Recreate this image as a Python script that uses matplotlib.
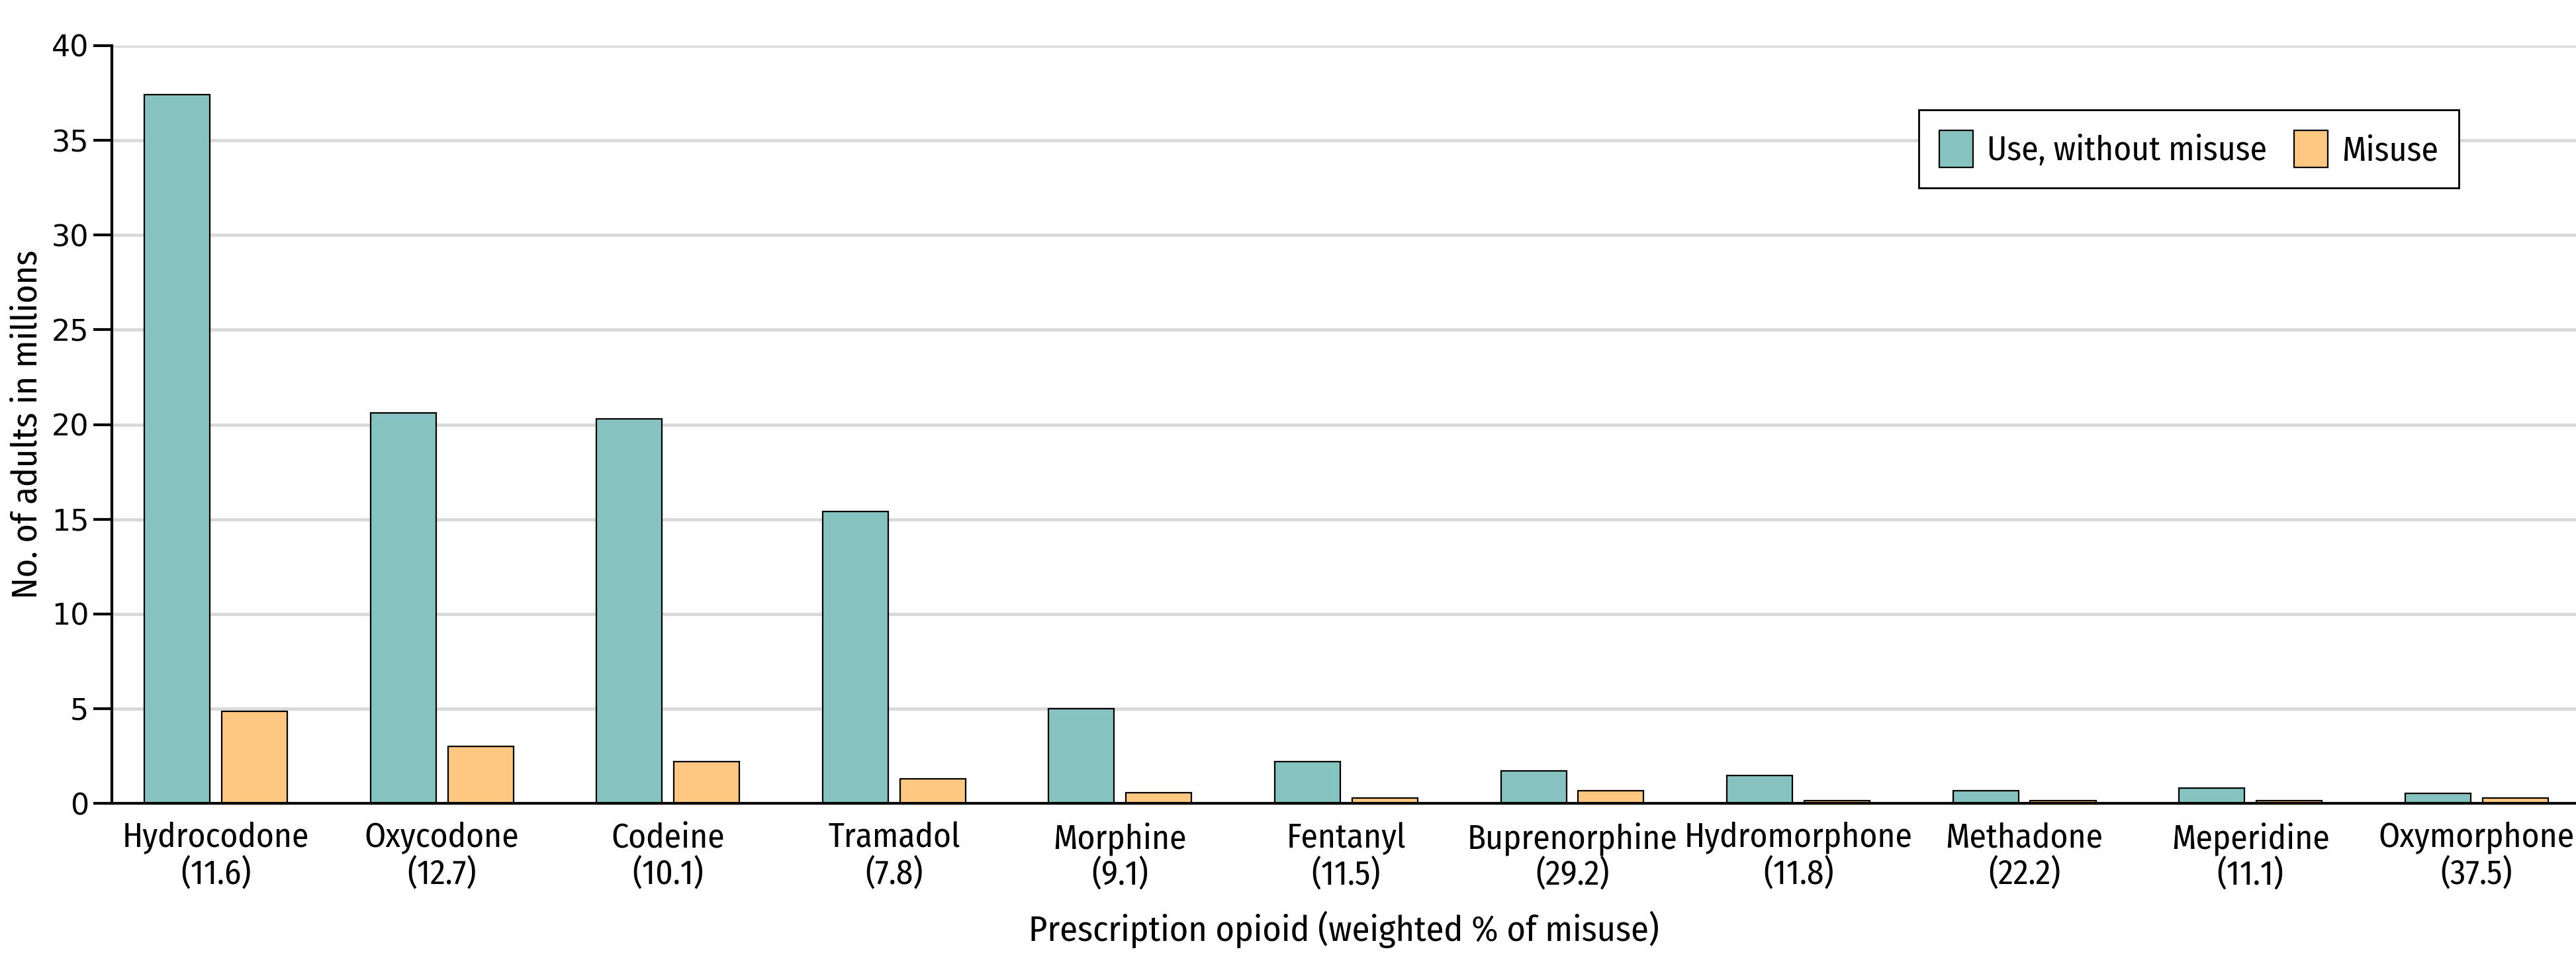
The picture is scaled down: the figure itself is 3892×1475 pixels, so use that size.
import matplotlib
matplotlib.use("Agg")
import matplotlib.pyplot as plt
import numpy as np

plt.rcParams['font.family'] = ['Fira Sans Condensed', 'Roboto Condensed', 'Barlow Semi Condensed',
                               'Archivo Narrow', 'DejaVu Sans']

# data
drugs = ["Hydrocodone", "Oxycodone", "Codeine", "Tramadol", "Morphine", "Fentanyl",
         "Buprenorphine", "Hydromorphone", "Methadone", "Meperidine", "Oxymorphone"]
pct_misuse = ["11.6", "12.7", "10.1", "7.8", "9.1", "11.5", "29.2", "11.8", "22.2", "11.1", "37.5"]
use_no_misuse = [37.4, 20.6, 20.3, 15.4, 5.0, 2.2, 1.7, 1.45, 0.65, 0.8, 0.52]
misuse = [4.85, 3.0, 2.2, 1.3, 0.55, 0.28, 0.66, 0.14, 0.14, 0.14, 0.28]
yticks = [0, 5, 10, 15, 20, 25, 30, 35, 40]

teal = "#86C2BF"
orange = "#FEC782"

W, H = 3892, 1475
fig = plt.figure(figsize=(W / 100, H / 100), dpi=100)
ax = fig.add_axes([169 / W, 1 - 1214 / H, (W - 169) / W, (1214 - 69) / H])

x = np.arange(len(drugs))
bw = 0.29
ax.bar(x - 0.171, use_no_misuse, bw, color=teal, edgecolor="black", linewidth=1.6,
       label="Use, without misuse", zorder=3)
ax.bar(x + 0.171, misuse, bw, color=orange, edgecolor="black", linewidth=1.6,
       label="Misuse", zorder=3)

ax.set_xlim(-0.46, 10.44)
ax.set_ylim(0, 40)
ax.set_yticks(yticks)
ax.set_yticklabels([str(v) for v in yticks], family="DejaVu Sans", fontsize=32)
ax.set_xticks(x)
ax.set_xticklabels([f"{d}\n({p})" for d, p in zip(drugs, pct_misuse)], fontsize=37,
                   linespacing=1.12)
ax.tick_params(axis="x", length=0, pad=20)
ax.tick_params(axis="y", length=20, width=3, pad=5)

ax.grid(axis="y", color="#D9D9D9", linewidth=3.5, zorder=0)
ax.set_axisbelow(True)
for s in ["top", "right"]:
    ax.spines[s].set_visible(False)
for s in ["left", "bottom"]:
    ax.spines[s].set_linewidth(3)
    ax.spines[s].set_zorder(4)

ax.set_ylabel("No. of adults in millions", fontsize=39)
ax.yaxis.set_label_coords(-0.0275, 0.5)
ax.set_xlabel("Prescription opioid (weighted % of misuse)", fontsize=39, labelpad=20)

leg = ax.legend(loc="upper left", bbox_to_anchor=(2899 / W, 1 - 166 / H),
                bbox_transform=fig.transFigure, ncol=2, fontsize=37,
                frameon=True, fancybox=False, edgecolor="black", framealpha=1,
                handlelength=1.0, handleheight=1.3, handletextpad=0.4,
                columnspacing=0.8, borderpad=0.6, borderaxespad=0)
leg.get_frame().set_linewidth(2)

fig.savefig("out.png", dpi=100)
